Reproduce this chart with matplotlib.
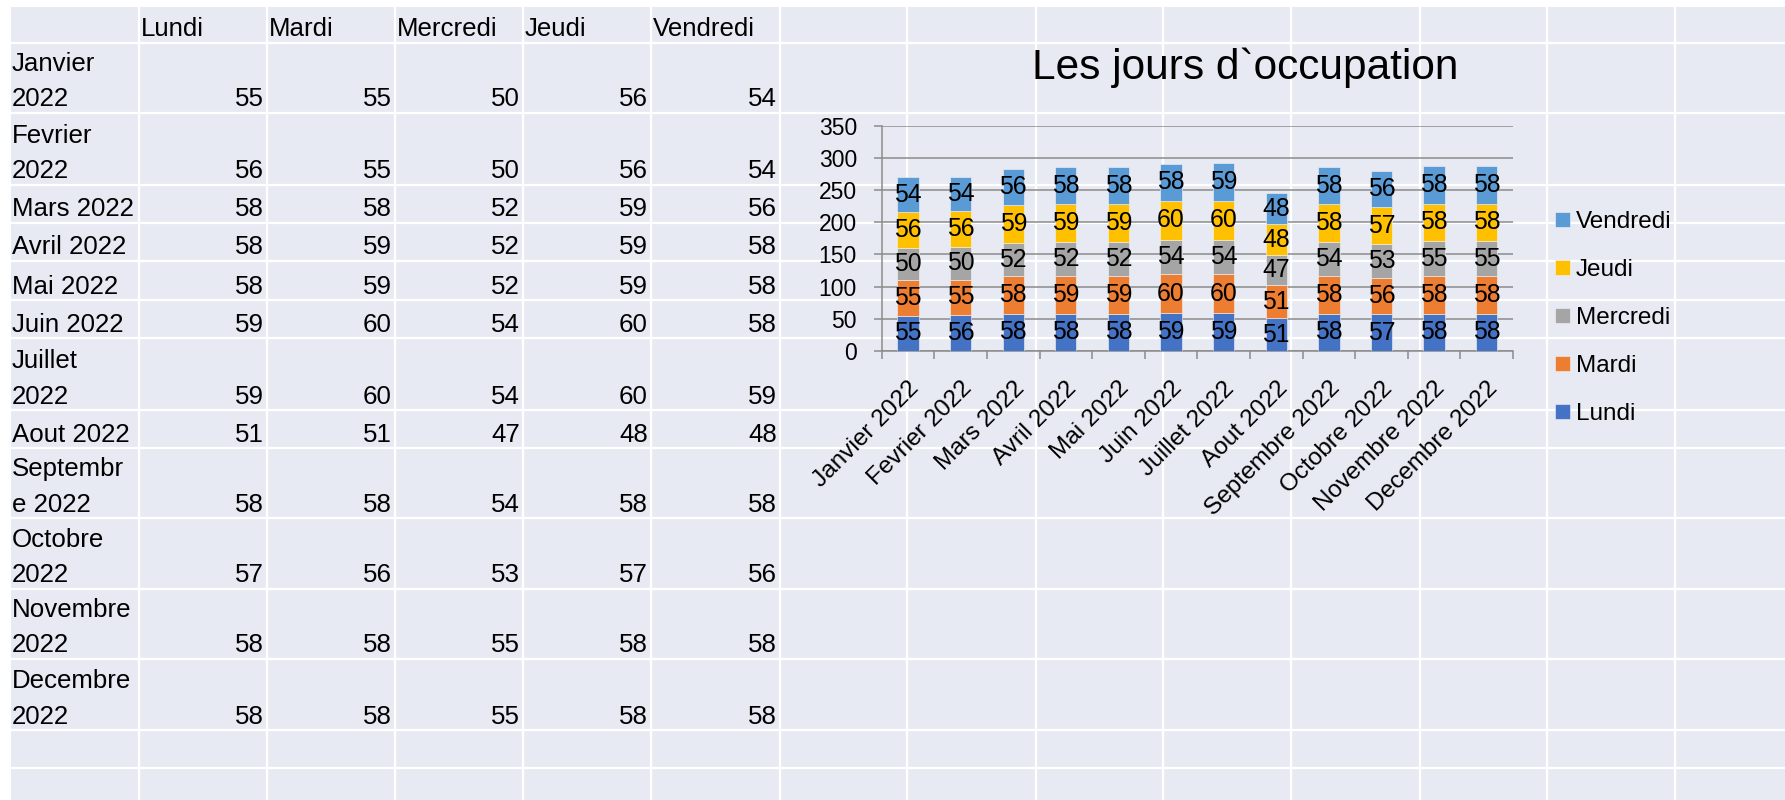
import numpy as np
import matplotlib.pyplot as plt
from matplotlib.patches import Rectangle

plt.rcParams['font.family'] = ['Liberation Sans', 'DejaVu Sans']

########## data #####################################################
months = ['Janvier 2022', 'Fevrier 2022', 'Mars 2022', 'Avril 2022', 'Mai 2022', 'Juin 2022',
          'Juillet 2022', 'Aout 2022', 'Septembre 2022', 'Octobre 2022', 'Novembre 2022', 'Decembre 2022']
# month names as they wrap inside the sheet cells
month_cells = [['Janvier', '2022'], ['Fevrier', '2022'], ['Mars 2022'], ['Avril 2022'], ['Mai 2022'],
               ['Juin 2022'], ['Juillet', '2022'], ['Aout 2022'], ['Septembr', 'e 2022'],
               ['Octobre', '2022'], ['Novembre', '2022'], ['Decembre', '2022']]
days = ['Lundi', 'Mardi', 'Mercredi', 'Jeudi', 'Vendredi']

lundi    = [55, 56, 58, 58, 58, 59, 59, 51, 58, 57, 58, 58]
mardi    = [55, 55, 58, 59, 59, 60, 60, 51, 58, 56, 58, 58]
mercredi = [50, 50, 52, 52, 52, 54, 54, 47, 54, 53, 55, 55]
jeudi    = [56, 56, 59, 59, 59, 60, 60, 48, 58, 57, 58, 58]
vendredi = [54, 54, 56, 58, 58, 58, 59, 48, 58, 56, 58, 58]
series = [lundi, mardi, mercredi, jeudi, vendredi]

colors = ['#4472C4', '#ED7D31', '#A5A5A5', '#FFC000', '#5B9BD5']

########## sheet ####################################################
W, H = 1785, 800
fig = plt.figure(figsize=(W / 100, H / 100), dpi=100)
fig.patch.set_facecolor('white')

bg = fig.add_axes([0, 0, 1, 1])
bg.set_xlim(0, W)
bg.set_ylim(H, 0)
bg.axis('off')
bg.add_patch(Rectangle((11, 7), W - 11, H - 7, facecolor='#E8EAF3', edgecolor='none'))

# cell borders (pixels)
col_x = [11, 139, 267, 395, 523, 651, 780, 907, 1036, 1163, 1291, 1420, 1547, 1675]
row_y = [7, 43, 113, 185, 223, 261, 300, 338, 410, 448, 518, 589, 659, 730, 768]
for xx in col_x[1:]:
    bg.plot([xx, xx], [7, H], color='white', lw=1.6)
for yy in row_y[1:]:
    bg.plot([11, W], [yy, yy], color='white', lw=1.6)

fs_tab = 18.6
for j, d in enumerate(days):
    bg.text(col_x[j + 1] + 2, row_y[1] - 6.5, d, fontsize=fs_tab, ha='left', va='baseline')
for i, cell in enumerate(month_cells):
    bot = row_y[i + 2]
    bg.text(12, bot - 6.5, cell[-1], fontsize=fs_tab, ha='left', va='baseline')
    if len(cell) > 1:
        bg.text(12, bot - 42, cell[0], fontsize=fs_tab, ha='left', va='baseline')
    for j, vals in enumerate(series):
        bg.text(col_x[j + 2] - 3, bot - 6.5, str(vals[i]), fontsize=fs_tab, ha='right', va='baseline')

########## chart ####################################################
ax_l, ax_r, ax_t, ax_b = 881.7, 1513, 125.7, 351
ax = fig.add_axes([ax_l / W, (H - ax_b) / H, (ax_r - ax_l) / W, (ax_b - ax_t) / H])
ax.patch.set_visible(False)

x = np.arange(len(months))
bottom = np.zeros(len(months))
for name, vals, c in zip(days, series, colors):
    bars = ax.bar(x, vals, 0.405, bottom=bottom, color=c, label=name, zorder=3,
                  edgecolor='#f4f4f4', linewidth=0.4)
    ax.bar_label(bars, label_type='center', fontsize=17.8, color='black',
                 family=['Liberation Sans Narrow', 'Liberation Sans', 'DejaVu Sans'])
    bottom += np.array(vals)

gcol = '#8C8C8C'
ax.set_xlim(-0.5, 11.5)
ax.set_ylim(0, 350)
ax.set_yticks(range(0, 351, 50))
ax.yaxis.grid(True, color=gcol, lw=1.1, zorder=0)
for s in ['top', 'right']:
    ax.spines[s].set_visible(False)
for s in ['left', 'bottom']:
    ax.spines[s].set_color(gcol)
    ax.spines[s].set_linewidth(1.1)

ax.tick_params(axis='y', length=5.8, width=1.1, color=gcol, pad=12, labelsize=16.5)
ax.set_xticks(x)
ax.set_xticklabels(months, rotation=45, ha='right', va='top', rotation_mode='anchor', fontsize=17.6)
ax.tick_params(axis='x', which='major', length=0, pad=19)
ax.set_xticks(np.arange(-0.5, 12, 1), minor=True)
ax.tick_params(axis='x', which='minor', length=5.8, width=1.1, color=gcol)

handles, labels = ax.get_legend_handles_labels()
ax.legend(handles[::-1], labels[::-1], loc='upper left',
          bbox_to_anchor=(1555 / W, (H - 211) / H), bbox_transform=fig.transFigure,
          frameon=False, fontsize=17.5, handlelength=0.62, handleheight=0.62,
          handletextpad=0.25, labelspacing=1.07, borderpad=0, borderaxespad=0)

fig.text(1245 / W, (H - 79.3) / H, 'Les jours d`occupation', fontsize=30.5, ha='center', va='baseline')

plt.savefig('out.png', dpi=100)
